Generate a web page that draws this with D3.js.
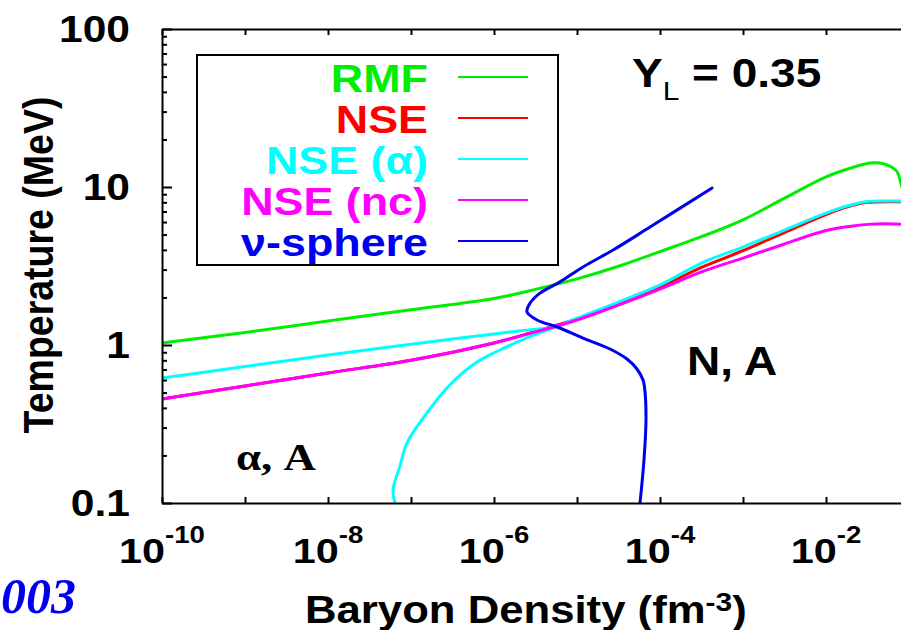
<!DOCTYPE html>
<html>
<head>
<meta charset="utf-8">
<script src="https://cdn.jsdelivr.net/npm/d3@7"></script>
<style>
  html, body { margin: 0; padding: 0; background: #fff; overflow: hidden; }
  svg { display: block; }
  text { font-family: "Liberation Sans", Arial, Helvetica, sans-serif; font-weight: bold; }
</style>
</head>
<body>
<svg id="chart" width="901" height="630"></svg>
<script>
// ---- Data: baryon density (fm^-3) vs temperature (MeV), Y_L = 0.35 ----
const rmfDensity = [1e-10, 1e-9, 1e-8, 1e-7, 1e-6, 3.16e-6, 1e-5, 3.16e-5, 1e-4, 3.16e-4, 1e-3, 3.16e-3, 1e-2, 2e-2, 3.4e-2, 5e-2, 7.1e-2, 7.9e-2, 8.9e-2];
const rmfTemp    = [1.03, 1.2, 1.42, 1.67, 1.97, 2.25, 2.62, 3.15, 3.9, 4.85, 6.2, 8.5, 11.6, 13.2, 14.2, 14.0, 12.6, 10.8, 8.5];

const nseDensity = [1e-10, 1e-9, 1e-8, 1e-7, 1e-6, 3.16e-6, 1e-5, 3.16e-5, 1e-4, 3.16e-4, 1e-3, 3.16e-3, 1e-2, 2e-2, 3.16e-2, 8.9e-2];
const nseTemp    = [0.455, 0.55, 0.665, 0.80, 1.03, 1.22, 1.46, 1.83, 2.32, 3.1, 3.95, 5.15, 6.7, 7.6, 8.0, 8.05];

const alphaDensity = [1e-10, 1e-9, 1e-8, 1e-7, 3.16e-7, 1e-6, 2e-6, 3.5e-6, 5.4e-6, 1e-5, 3.16e-5, 1e-4, 3.16e-4, 1e-3, 3.16e-3, 1e-2, 2e-2, 3.16e-2, 5e-2, 8.9e-2];
const alphaTemp    = [0.618, 0.73, 0.865, 1.01, 1.09, 1.175, 1.225, 1.265, 1.30, 1.48, 1.87, 2.4, 3.3, 4.17, 5.34, 6.84, 7.69, 8.09, 8.15, 8.15];

// low-temperature branch of the alpha curve
const alphaLowDensity = [6.41e-8, 6.07e-8, 7.36e-8, 8.95e-8, 1.40e-7, 2.95e-7, 6.24e-7, 1.18e-6, 2.95e-6, 5.4e-6];
const alphaLowTemp    = [0.1, 0.121, 0.171, 0.24, 0.345, 0.56, 0.78, 0.93, 1.15, 1.29];

const ncDensity = [1e-10, 1e-9, 1e-8, 1e-7, 1e-6, 3.16e-6, 1e-5, 3.16e-5, 1e-4, 3.16e-4, 1e-3, 3.16e-3, 1e-2, 2e-2, 3.16e-2, 5e-2, 8.9e-2];
const ncTemp    = [0.455, 0.55, 0.665, 0.80, 1.03, 1.21, 1.44, 1.79, 2.26, 2.9, 3.55, 4.36, 5.3, 5.65, 5.8, 5.85, 5.8];

const nuDensity = [5.74e-5, 6.41e-5, 6.78e-5, 6.6e-5, 6.24e-5, 5.28e-5, 4.0e-5, 2.5e-5, 1.18e-5, 5.74e-6, 3.3e-6, 2.5e-6, 2.72e-6, 3.58e-6, 6.24e-6, 1.18e-5, 2.72e-5, 7.59e-5, 4.24e-4];
const nuTemp    = [0.1, 0.187, 0.335, 0.504, 0.60, 0.705, 0.815, 0.943, 1.107, 1.30, 1.44, 1.62, 1.84, 2.13, 2.51, 3.12, 3.99, 5.58, 9.86];

const legendLabels = ["RMF", "NSE", "NSE (\u03b1)", "NSE (nc)", "\u03bd-sphere"];
const legendColors = ["#00ee00", "#ff0000", "#00ffff", "#ff00ff", "#0000f0"];

const xDecades = [1e-10, 1e-9, 1e-8, 1e-7, 1e-6, 1e-5, 1e-4, 1e-3, 1e-2, 1e-1];
const xLabelValues = [1e-10, 1e-8, 1e-6, 1e-4, 1e-2];
const xLabelExponents = ["-10", "-8", "-6", "-4", "-2"];
const yMajor = [0.1, 1, 10, 100];
const yLabels = ["0.1", "1", "10", "100"];
const yMinor = [0.2, 0.3, 0.4, 0.5, 0.6, 0.7, 0.8, 0.9, 2, 3, 4, 5, 6, 7, 8, 9, 20, 30, 40, 50, 60, 70, 80, 90];

// ---- Layout ----
const svg = d3.select("#chart");
const plot = { left: 162, top: 29, right: 909, bottom: 503 };
const stretch = 1.15; // glyphs are drawn slightly wide

const x = d3.scaleLog().domain([1e-10, 1e-1]).range([plot.left, plot.right]);
const y = d3.scaleLog().domain([0.1, 100]).range([plot.bottom, plot.top]);

function placed(sel, px, py) {
  return sel.attr("transform", `translate(${px},${py}) scale(${stretch},1)`);
}

// clip region for curves
svg.append("defs").append("clipPath").attr("id", "plotClip")
  .append("rect")
  .attr("x", plot.left).attr("y", plot.top)
  .attr("width", plot.right - plot.left).attr("height", plot.bottom - plot.top);

// ---- Curves ----
const line = d3.line()
  .x(d => x(d[0]))
  .y(d => y(d[1]))
  .curve(d3.curveCatmullRom.alpha(0.5));

const zip = (a, b) => a.map((v, i) => [v, b[i]]);

const curves = svg.append("g").attr("clip-path", "url(#plotClip)")
  .attr("fill", "none").attr("stroke-width", 3)
  .attr("stroke-linejoin", "round").attr("stroke-linecap", "round");

const series = [
  { pts: zip(nseDensity, nseTemp), color: legendColors[1] },
  { pts: zip(rmfDensity, rmfTemp), color: legendColors[0] },
  { pts: zip(alphaLowDensity, alphaLowTemp), color: legendColors[2] },
  { pts: zip(alphaDensity, alphaTemp), color: legendColors[2] },
  { pts: zip(ncDensity, ncTemp), color: legendColors[3] },
  { pts: zip(nuDensity, nuTemp), color: legendColors[4] }
];

curves.selectAll("path").data(series).join("path")
  .attr("stroke", d => d.color)
  .attr("d", d => line(d.pts));

// ---- Axes / frame ----
const axisStyle = g => {
  g.select(".domain").attr("stroke", "#000").attr("stroke-width", 2);
  g.selectAll(".tick line").attr("stroke", "#000").attr("stroke-width", 2);
  g.selectAll(".tick text").remove();
};

svg.append("g").attr("transform", `translate(0,${plot.bottom})`)
  .call(d3.axisBottom(x).tickValues(xDecades).tickSizeInner(-6).tickSizeOuter(0).tickFormat(""))
  .call(axisStyle);

svg.append("g").attr("transform", `translate(0,${plot.top})`)
  .call(d3.axisTop(x).tickValues(xDecades).tickSizeInner(-6).tickSizeOuter(0).tickFormat(""))
  .call(axisStyle);

svg.append("g").attr("transform", `translate(${plot.left},0)`)
  .call(d3.axisLeft(y).tickValues(yMajor).tickSizeInner(-10).tickSizeOuter(0).tickFormat(""))
  .call(axisStyle);

svg.append("g").attr("transform", `translate(${plot.left},0)`)
  .call(d3.axisLeft(y).tickValues(yMinor).tickSizeInner(-5).tickSizeOuter(0).tickFormat(""))
  .call(axisStyle)
  .call(g => g.select(".domain").remove());

svg.append("line")
  .attr("x1", plot.right).attr("x2", plot.right)
  .attr("y1", plot.top).attr("y2", plot.bottom)
  .attr("stroke", "#000").attr("stroke-width", 2);

// y tick labels
yMajor.forEach((v, i) => {
  placed(svg.append("text"), 130, y(v))
    .attr("text-anchor", "end").attr("dy", "0.36em")
    .attr("font-size", 37).text(yLabels[i]);
});

// x tick labels: 10 with superscript exponent
xLabelValues.forEach((v, i) => {
  const t = placed(svg.append("text"), x(v), 563)
    .attr("text-anchor", "middle").attr("font-size", 36);
  t.append("tspan").text("10");
  t.append("tspan").attr("font-size", 24).attr("dy", -20).text(xLabelExponents[i]);
});

// axis titles
const xt = placed(svg.append("text"), 305, 623).attr("font-size", 38);
xt.append("tspan").text("Baryon Density (fm");
xt.append("tspan").attr("font-size", 26).attr("dy", -12).text("-3");
xt.append("tspan").attr("dy", 12).text(")");

svg.append("text")
  .attr("transform", `translate(53,265) scale(${stretch},1) rotate(-90)`)
  .attr("text-anchor", "middle").attr("font-size", 37.5)
  .text("Temperature (MeV)");

// ---- Legend ----
const legend = svg.append("g");
legend.append("rect")
  .attr("x", 197).attr("y", 55).attr("width", 361).attr("height", 210)
  .attr("fill", "#fff").attr("stroke", "#000").attr("stroke-width", 2);

legendLabels.forEach((lab, i) => {
  const base = 92 + 41 * i;
  placed(legend.append("text"), 428, base)
    .attr("text-anchor", "end").attr("font-size", 39)
    .attr("fill", legendColors[i]).text(lab);
  legend.append("line")
    .attr("x1", 458).attr("x2", 528)
    .attr("y1", base - 15).attr("y2", base - 15)
    .attr("stroke", legendColors[i]).attr("stroke-width", 2);
});

// ---- Annotations ----
const yl = placed(svg.append("text"), 632, 87).attr("font-size", 40);
yl.append("tspan").text("Y");
yl.append("tspan").attr("font-size", 26).attr("dy", 13).attr("font-weight", "normal").text("L");
yl.append("tspan").attr("dy", -13).text(" = 0.35");

placed(svg.append("text"), 687, 375).attr("font-size", 40).text("N, A");

placed(svg.append("text"), 236, 470)
  .attr("font-size", 39)
  .style("font-family", "'Liberation Serif', 'Times New Roman', serif")
  .style("font-weight", "bold")
  .text("\u03b1, A");

svg.append("text")
  .attr("x", 76).attr("y", 613).attr("text-anchor", "end")
  .attr("font-size", 50).attr("fill", "#0000ee")
  .style("font-family", "'Liberation Serif', 'Times New Roman', serif")
  .style("font-style", "italic").style("font-weight", "bold")
  .text("003");
</script>
</body>
</html>
